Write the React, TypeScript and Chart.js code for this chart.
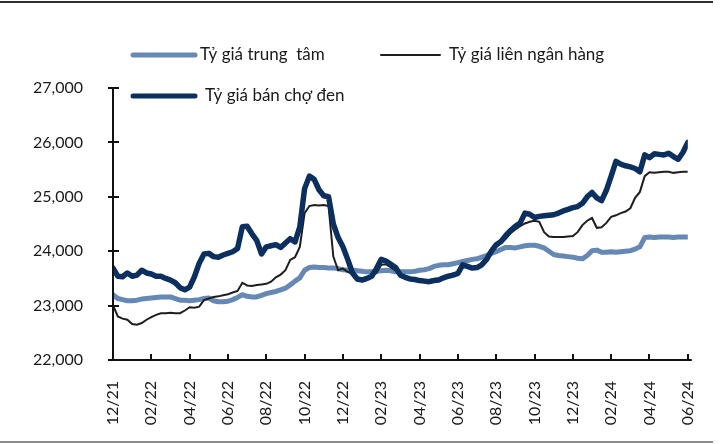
import React, { useEffect, useRef } from 'react';
import { Chart, registerables } from 'chart.js';

Chart.register(...registerables);

// Tick labels (every two months, Dec 2021 -> Jun 2024)
const monthLabels = ['12/21','02/22','04/22','06/22','08/22','10/22','12/22','02/23','04/23','06/23','08/23','10/23','12/23','02/24','04/24','06/24'];
const yTickValues = [22000, 23000, 24000, 25000, 26000, 27000];

// Series names
const seriesNames = ['Tỷ giá trung  tâm', 'Tỷ giá liên ngân hàng', 'Tỷ giá bán chợ đen'];

// Weekly observations (4 per month), starting at 12/21
const centralRate = [23200,23130,23110,23090,23090,23100,23120,23130,23140,23150,
23160,23160,23160,23130,23100,23100,23090,23100,23110,23130,
23140,23090,23070,23070,23080,23110,23150,23200,23170,23160,
23160,23190,23220,23240,23260,23290,23320,23380,23450,23510,
23650,23700,23710,23700,23700,23690,23690,23680,23660,23650,
23650,23640,23630,23620,23620,23630,23640,23650,23640,23620,
23620,23620,23620,23630,23650,23660,23680,23720,23740,23750,
23750,23770,23790,23810,23830,23850,23860,23890,23920,23960,
23990,24030,24070,24070,24060,24080,24100,24110,24110,24090,
24060,24000,23940,23920,23910,23900,23890,23870,23860,23920,
24010,24020,23980,23980,23990,23980,23990,24000,24010,24040,
24080,24250,24260,24250,24260,24260,24260,24250,24260,24260,
24260];

const interbankRate = [23010,22800,22760,22740,22660,22650,22680,22740,22790,22830,
22860,22860,22870,22860,22860,22910,22970,22960,22980,23100,
23130,23160,23170,23190,23210,23240,23270,23420,23370,23360,
23380,23390,23400,23440,23520,23570,23650,23840,23890,24080,
24700,24830,24850,24840,24850,24830,23900,23650,23680,23620,
23580,23460,23450,23470,23540,23600,23750,23760,23700,23640,
23560,23530,23500,23490,23480,23470,23470,23490,23500,23530,
23560,23590,23620,23700,23720,23700,23720,23780,23880,24000,
24080,24150,24230,24330,24400,24460,24510,24540,24560,24540,
24350,24270,24260,24260,24260,24270,24280,24350,24480,24560,
24610,24430,24440,24520,24630,24660,24700,24730,24790,24980,
25090,25380,25450,25440,25450,25460,25460,25440,25450,25460,
25460];

const blackMarketRate = [23690,23540,23530,23600,23540,23560,23650,23600,23580,23540,
23540,23500,23470,23420,23330,23290,23340,23530,23780,23950,
23960,23900,23890,23930,23960,23990,24050,24450,24460,24320,
24200,23950,24080,24100,24120,24070,24150,24230,24170,24450,
25150,25380,25320,25130,25020,25000,24500,24250,24080,23850,
23600,23490,23470,23500,23540,23680,23850,23820,23760,23700,
23560,23520,23490,23480,23460,23450,23440,23460,23470,23510,
23540,23560,23590,23750,23720,23690,23700,23750,23850,24000,
24120,24180,24290,24380,24460,24520,24700,24680,24620,24640,
24650,24660,24670,24700,24740,24770,24800,24820,24880,25000,
25080,24980,24930,25120,25380,25650,25600,25570,25550,25520,
25460,25770,25720,25790,25780,25770,25800,25740,25690,25820,
26000];

const COLORS = { central: '#6688b4', interbank: '#1e1e1e', black: '#0b2f5f' };
const FONT = 'Lato';

const toPoints = (arr: number[]) => arr.map((v, i) => ({ x: i / 4, y: v }));

const decorPlugin = {
  id: 'decor',
  afterDraw(chart: any) {
    const { ctx, chartArea: a, scales } = chart;
    const xs = scales.x, ys = scales.y;
    const line = (x1: number, y1: number, x2: number, y2: number) => {
      ctx.beginPath(); ctx.moveTo(x1, y1); ctx.lineTo(x2, y2); ctx.stroke();
    };
    ctx.save();
    ctx.lineCap = 'butt';
    // frame lines
    ctx.lineWidth = 2;
    ctx.strokeStyle = '#2e2e2e';
    line(0, 2, 713, 2);
    ctx.strokeStyle = '#8a8a8a';
    line(0, 442, 713, 442);
    // axes
    ctx.strokeStyle = '#111111';
    ctx.lineWidth = 2;
    line(a.left, a.top - 1, a.left, a.bottom + 1);
    line(a.left - 1, a.bottom, a.right + 4, a.bottom);
    yTickValues.forEach(v => {
      const py = Math.round(ys.getPixelForValue(v));
      line(a.left - 5, py, a.left + 6, py);
    });
    xs.ticks.forEach((t: any) => {
      const px = Math.round(xs.getPixelForValue(t.value));
      line(px, a.bottom, px, a.bottom - 6);
    });
    // legend
    const items = [
      { name: seriesNames[0], color: COLORS.central, w: 5, x1: 133, x2: 195, y: 55, tx: 200 },
      { name: seriesNames[1], color: COLORS.interbank, w: 2, x1: 381, x2: 440, y: 55, tx: 449 },
      { name: seriesNames[2], color: COLORS.black, w: 5, x1: 133, x2: 195, y: 96, tx: 205 },
    ];
    ctx.font = `17px ${FONT}`;
    ctx.textBaseline = 'middle';
    ctx.textAlign = 'left';
    items.forEach(it => {
      ctx.strokeStyle = it.color;
      ctx.lineWidth = it.w;
      ctx.lineCap = 'round';
      line(it.x1, it.y, it.x2, it.y);
      ctx.fillStyle = '#1a1a1a';
      ctx.fillText(it.name, it.tx, it.y);
    });
    ctx.restore();
  },
};

export default function App() {
  const ref = useRef<HTMLCanvasElement | null>(null);
  useEffect(() => {
    if (!ref.current) return;
    const chart = new Chart(ref.current, {
      type: 'line',
      data: {
        datasets: [
          { label: seriesNames[2], data: toPoints(blackMarketRate), borderColor: COLORS.black, borderWidth: 5.5, pointRadius: 0, tension: 0, borderJoinStyle: 'round', borderCapStyle: 'round' },
          { label: seriesNames[1], data: toPoints(interbankRate), borderColor: COLORS.interbank, borderWidth: 2, pointRadius: 0, tension: 0 },
          { label: seriesNames[0], data: toPoints(centralRate), borderColor: COLORS.central, borderWidth: 5, pointRadius: 0, tension: 0, borderJoinStyle: 'round', borderCapStyle: 'round' },
        ],
      },
      options: {
        animation: false,
        responsive: false,
        maintainAspectRatio: false,
        layout: { padding: { top: 88, right: 27, left: 0, bottom: 0 } },
        plugins: { legend: { display: false }, tooltip: { enabled: false } },
        scales: {
          x: {
            type: 'linear',
            min: 0,
            max: 30,
            grid: { display: false },
            border: { display: false },
            afterFit: (s: any) => { s.height = 84; },
            afterBuildTicks: (s: any) => { s.ticks = monthLabels.map((_, i) => ({ value: i * 2 })); },
            ticks: {
              autoSkip: false,
              minRotation: 90,
              maxRotation: 90,
              padding: 13,
              color: '#1a1a1a',
              font: { family: FONT, size: 16 },
              callback: (v: any) => monthLabels[Math.round(Number(v) / 2)] ?? '',
            },
          },
          y: {
            min: 22000,
            max: 27000,
            grid: { display: false },
            border: { display: false },
            afterFit: (s: any) => { s.width = 113; },
            afterBuildTicks: (s: any) => { s.ticks = yTickValues.map(v => ({ value: v })); },
            ticks: {
              padding: 22,
              color: '#1a1a1a',
              font: { family: FONT, size: 16 },
              callback: (v: any) => Number(v).toLocaleString('en-US'),
            },
          },
        },
      },
      plugins: [decorPlugin],
    });
    return () => chart.destroy();
  }, []);
  return (
    <div style={{ position: 'fixed', left: 0, top: 0, width: 720, height: 444, background: '#fff' }}>
      <canvas ref={ref} width={720} height={444} style={{ display: 'block' }} />
    </div>
  );
}
